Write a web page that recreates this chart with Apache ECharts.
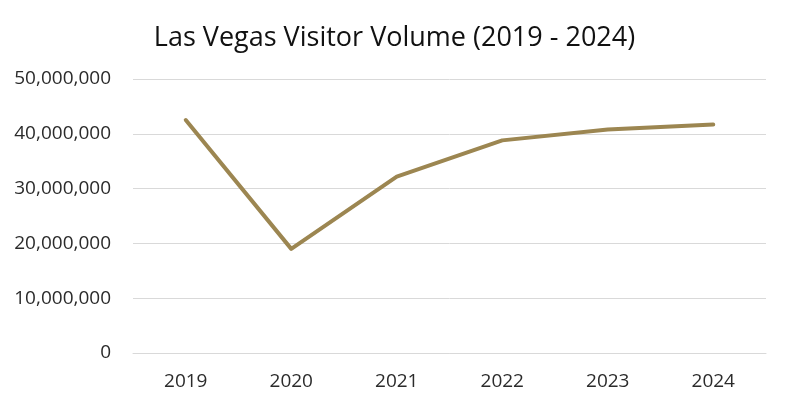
<!DOCTYPE html>
<html>
<head>
<meta charset="utf-8">
<script src="https://cdn.jsdelivr.net/npm/echarts@6/dist/echarts.min.js"></script>
<style>
  html, body { margin: 0; padding: 0; background: #fff; }
  #char { width: 789px; height: 409px; }
</style>
</head>
<body>
<div id="char"></div>
<script>
const years = ['2019', '2020', '2021', '2022', '2023', '2024']
const visitors = [42500000, 19000000, 32200000, 38800000, 40800000, 41700000]
const titleText = 'Las Vegas Visitor Volume (2019 - 2024)'

const fontFamily = '"Open Sans", "Noto Sans", sans-serif'
let myChart = echarts.init(document.getElementById('char'))
let option = {
  animation: false,
  title: {
    text: titleText,
    left: 'center',
    top: 20,
    textStyle: { fontFamily: fontFamily, fontSize: 27, fontWeight: 'normal', color: '#111' }
  },
  grid: { left: 133, right: 23, top: 79, bottom: 56 },
  xAxis: {
    type: 'category',
    data: years,
    boundaryGap: true,
    axisLine: { show: true, lineStyle: { color: '#d9d9d9', width: 1 } },
    axisTick: { show: false },
    axisLabel: { color: '#2b2b2b', fontSize: 19, fontFamily: fontFamily, margin: 19 }
  },
  yAxis: {
    type: 'value',
    min: 0,
    max: 50000000,
    interval: 10000000,
    axisLine: { show: false },
    axisTick: { show: false },
    splitLine: { lineStyle: { color: '#d9d9d9', width: 1 } },
    axisLabel: {
      color: '#2b2b2b',
      fontSize: 19,
      fontFamily: fontFamily,
      margin: 22,
      padding: [3, 0, 0, 0],
      formatter: (v) => v.toLocaleString('en-US')
    }
  },
  series: [{
    type: 'line',
    data: visitors,
    symbol: 'none',
    lineStyle: { color: '#9C8651', width: 4, cap: 'round', join: 'round' }
  }]
}
myChart.setOption(option)
</script>
</body>
</html>
